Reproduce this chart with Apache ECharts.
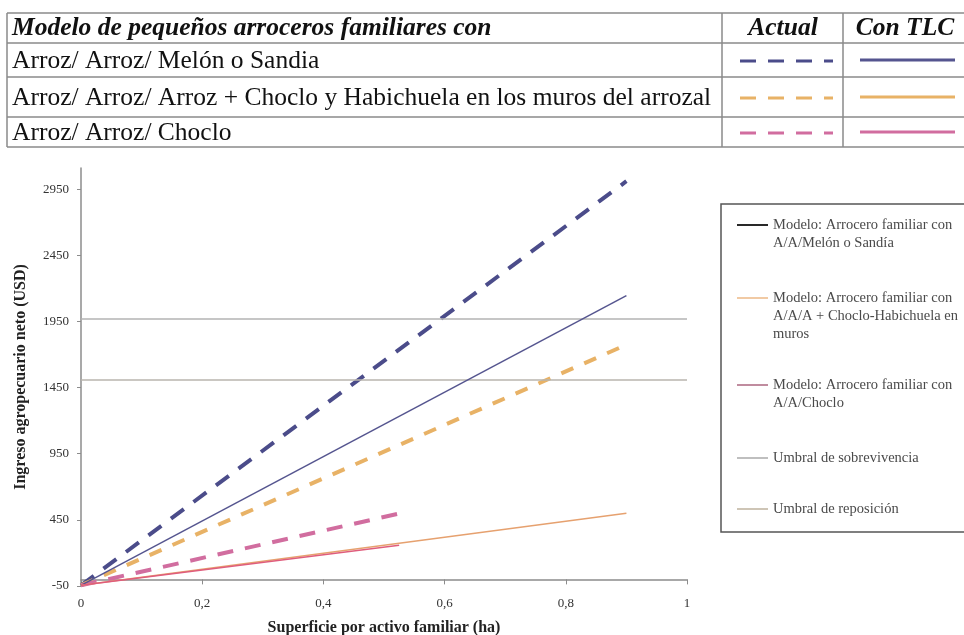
<!DOCTYPE html>
<html>
<head>
<meta charset="utf-8">
<script src="https://cdn.jsdelivr.net/npm/echarts@6/dist/echarts.min.js"></script>
<style>
html,body{margin:0;padding:0;background:#fff;}
#c{width:964px;height:635px;}
</style>
</head>
<body>
<div id="c"></div>
<script>
// ---- data ----
const tableHeader = ['Modelo de pequeños arroceros familiares con', 'Actual', 'Con TLC'];
const tableRows = [
  'Arroz/ Arroz/ Melón o Sandia',
  'Arroz/ Arroz/ Arroz + Choclo y Habichuela en los muros del arrozal',
  'Arroz/ Arroz/ Choclo'
];
const legendLabels = [
  'Modelo: Arrocero familiar con\nA/A/Melón o Sandía',
  'Modelo: Arrocero familiar con\nA/A/A + Choclo-Habichuela en\nmuros',
  'Modelo: Arrocero familiar con\nA/A/Choclo',
  'Umbral de sobrevivencia',
  'Umbral de reposición'
];
// [superficie (ha), ingreso (USD)]
const melonActual = [[0, -45], [0.9, 3010]];
const melonTLC = [[0, -45], [0.9, 2145]];
const chocloHabActual = [[0, -45], [0.9, 1774]];
const chocloHabTLC = [[0, -45], [0.9, 500]];
const chocloActual = [[0, -45], [0.535, 508]];
const chocloTLC = [[0, -45], [0.525, 258]];
const umbralSobrevivencia = [[0, 1968], [1, 1968]];
const umbralReposicion = [[0, 1507], [1, 1507]];
const yTicks = { min: -50, max: 3110, interval: 500 };
const xTicks = { min: 0, max: 1, interval: 0.2 };

// ---- styles ----
const NAVY = '#4b4c8a', ORANGE = '#e8b266', PINK = '#d16d9f';
const NAVY_S = '#55558f', ORANGE_S = '#e6a16f', PINK_S = '#df5d7c';
const SERIF = '"Liberation Serif", "DejaVu Serif", serif';

function line(x1, y1, x2, y2, stroke, lw, dash) {
  return { type: 'line', silent: true, shape: { x1, y1, x2, y2 },
    style: { stroke, lineWidth: lw, lineDash: dash || null } };
}
function text(t, x, y, font, fill, align) {
  return { type: 'text', silent: true, x: x, y: y,
    style: { text: t, font: font, fill: fill || '#111', align: align || 'left',
      verticalAlign: 'middle', textAlign: align || 'left', textVerticalAlign: 'middle', lineHeight: 18 } };
}

const g = [];
// table
const TB = '#8a8a8a';
[13, 43, 77, 117, 147].forEach(y => g.push(line(7, y, 964, y, TB, 1.5)));
g.push(line(7, 13, 7, 147, TB, 1.5));
g.push(line(722, 13, 722, 147, TB, 1.5));
g.push(line(843, 13, 843, 147, TB, 1.5));
g.push(text(tableHeader[0], 12, 28, 'italic bold 25.5px ' + SERIF, '#111'));
g.push(text(tableHeader[1], 783, 28, 'italic bold 25.5px ' + SERIF, '#111', 'center'));
g.push(text(tableHeader[2], 905, 28, 'italic bold 25.5px ' + SERIF, '#111', 'center'));
const rowY = [61, 98, 133];
const rowCols = [[NAVY, NAVY_S], [ORANGE, ORANGE], [PINK, PINK]];
tableRows.forEach((r, i) => {
  g.push(text(r, 12, rowY[i], '25.5px ' + SERIF, '#111'));
  g.push(line(740, rowY[i], 833, rowY[i], rowCols[i][0], 3, [16, 12]));
  g.push(line(860, rowY[i] - 1, 955, rowY[i] - 1, rowCols[i][1], 3));
});

// legend box
g.push({ type: 'rect', silent: true, shape: { x: 721, y: 204, width: 262, height: 328 },
  style: { fill: '#fff', stroke: '#555', lineWidth: 1.5 } });
const legY = [225, 298, 385, 458, 509];
const legCol = ['#111', '#f0c49a', '#b97f95', '#b8b8b8', '#c9bfae'];
legendLabels.forEach((l, i) => {
  g.push(line(737, legY[i], 768, legY[i], legCol[i], 1.8));
  const n = l.split('\n').length;
  g.push(text(l, 773, legY[i] + (n - 1) * 9, '14.5px ' + SERIF, '#4a4a4a'));
});

const dashed = (name, data, color, dash) => ({
  name, type: 'line', data, symbol: 'none', silent: true,
  lineStyle: { color, width: 4, type: dash }, z: 3
});
const solid = (name, data, color, w) => ({
  name, type: 'line', data, symbol: 'none', silent: true,
  lineStyle: { color, width: w || 1.5, type: 'solid' }, z: 4
});

const chart = echarts.init(document.getElementById('c'), null, { renderer: 'canvas' });
chart.setOption({
  animation: false,
  backgroundColor: '#fff',
  textStyle: { fontFamily: SERIF },
  grid: { left: 81, top: 168, width: 606, height: 418, containLabel: false, outerBoundsMode: 'none' },
  xAxis: {
    type: 'value', min: xTicks.min, max: xTicks.max, interval: xTicks.interval,
    name: 'Superficie por activo familiar (ha)', nameLocation: 'middle', nameGap: 34,
    nameTextStyle: { fontFamily: SERIF, fontSize: 16, fontWeight: 'bold', color: '#222' },
    axisLine: { onZero: true, lineStyle: { color: '#8c8c8c', width: 1.5 } },
    axisTick: { show: true, length: 5, lineStyle: { color: '#8c8c8c' } },
    axisLabel: { margin: 11, fontFamily: SERIF, fontSize: 13, color: '#333',
      formatter: v => (v === 0 || v === 1) ? String(v) : v.toFixed(1).replace('.', ',') },
    splitLine: { show: false }
  },
  yAxis: {
    type: 'value', min: yTicks.min, max: yTicks.max, interval: yTicks.interval,
    name: 'Ingreso agropecuario neto (USD)', nameLocation: 'middle', nameGap: 52, nameRotate: 90,
    nameTextStyle: { fontFamily: SERIF, fontSize: 16, fontWeight: 'bold', color: '#222' },
    axisLine: { show: true, onZero: false, lineStyle: { color: '#8c8c8c', width: 1.5 } },
    axisTick: { show: true, length: 4, lineStyle: { color: '#8c8c8c' } },
    axisLabel: { margin: 12, fontFamily: SERIF, fontSize: 13, color: '#333', showMaxLabel: false,
      formatter: v => String(Math.round(v)) },
    splitLine: { show: false }
  },
  series: [
    solid('Umbral de sobrevivencia', umbralSobrevivencia, '#b3b3b3', 1.5),
    solid('Umbral de reposición', umbralReposicion, '#b8b4ae', 1.5),
    dashed('Melón o Sandia - Actual', melonActual, NAVY, [16, 12]),
    solid('Melón o Sandia - Con TLC', melonTLC, NAVY_S),
    dashed('Choclo y Habichuela - Actual', chocloHabActual, ORANGE, [13, 12]),
    solid('Choclo y Habichuela - Con TLC', chocloHabTLC, ORANGE_S),
    dashed('Choclo - Actual', chocloActual, PINK, [16, 12]),
    solid('Choclo - Con TLC', chocloTLC, PINK_S)
  ],
  graphic: g
});
</script>
</body>
</html>
